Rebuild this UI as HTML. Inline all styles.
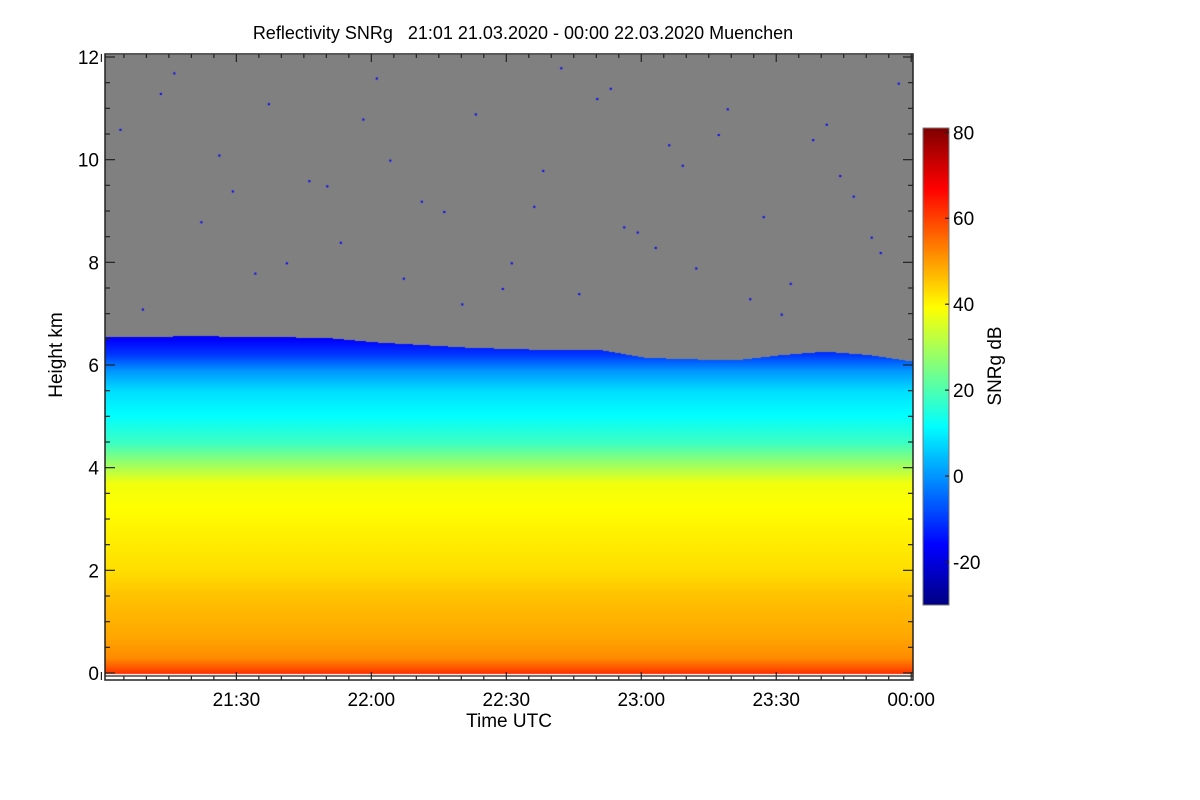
<!DOCTYPE html>
<html><head><meta charset="utf-8"><style>
body{margin:0;background:#fff;width:1200px;height:800px;overflow:hidden;font-family:"Liberation Sans",sans-serif}
</style></head><body>
<svg id="chart" width="1200" height="800" style="position:absolute;left:0;top:0">
<text x="523" y="39" font-size="18" text-anchor="middle" style="white-space:pre">Reflectivity SNRg   21:01 21.03.2020 - 00:00 22.03.2020 Muenchen</text>
<foreignObject x="105" y="55" width="808" height="620"><canvas id="hm" width="808" height="620" xmlns="http://www.w3.org/1999/xhtml"></canvas></foreignObject>
<foreignObject x="923" y="128" width="26" height="477"><canvas id="cb" width="26" height="477" xmlns="http://www.w3.org/1999/xhtml"></canvas></foreignObject>
<g id="axes"></g>
<text x="509" y="727" font-size="19" text-anchor="middle">Time UTC</text>
<text transform="translate(62,355) rotate(-90)" font-size="19" text-anchor="middle">Height km</text>
<text transform="translate(1001,366) rotate(-90)" font-size="19" text-anchor="middle">SNRg dB</text>
</svg>
<script>
// data
const timeMinutes=[0,10,20,30,40,50,60,70,80,90,100,110,120,130,140,150,160,170,179];
const cloudTop=[6.55,6.56,6.57,6.56,6.55,6.53,6.45,6.4,6.35,6.32,6.3,6.3,6.15,6.12,6.1,6.2,6.27,6.2,6.08];
const profileHeights=[0,0.1,0.3,0.7,1.5,2,3,3.7,4.1,4.5,5,5.5,5.9,6.2,6.6];
const profileValues=[62,58,52,49,46,43,40,38,28,18,12,8,0,-10,-18];
const dotTimes=[3,12,21,28,36,45,52,60,66,75,82,90,97,105,112,118,125,131,138,146,152,160,166,172,8,25,40,57,70,88,101,115,128,143,157,170,15,33,49,63,79,95,109,122,136,150,163,176];
const dotHeights=[10.6,11.3,8.8,9.4,11.1,9.6,8.4,11.6,7.7,9.0,10.9,8.0,9.8,7.4,11.4,8.6,10.3,7.9,11.0,8.9,7.6,10.7,9.3,8.2,7.1,10.1,8.0,10.8,9.2,7.5,11.8,8.7,9.9,7.3,10.4,8.5,11.7,7.8,9.5,10.0,7.2,9.1,11.2,8.3,10.5,7.0,9.7,11.5];
const yTicks=[0,2,4,6,8,10,12];
const xTickLabels=["21:30","22:00","22:30","23:00","23:30","00:00"];
const xTickMins=[29,59,89,119,149,179];
const cbTicks=[-20,0,20,40,60,80];
const cbMin=-30, cbMax=81;

const L=105,R=913,T=55,B=675;
const x=m=>L+(m+0.2)*(R-L)/179.6;
const y=h=>673-h*(616/12);
function interp(xs,ys,v){if(v<=xs[0])return ys[0];for(let i=1;i<xs.length;i++)if(v<=xs[i]){const f=(v-xs[i-1])/(xs[i]-xs[i-1]);return ys[i-1]+f*(ys[i]-ys[i-1]);}return ys[ys.length-1];}
function jet(v){let t=(v-cbMin)/(cbMax-cbMin);t=Math.max(0,Math.min(1,t));
 const c=q=>Math.round(255*Math.max(0,Math.min(1,1.5-Math.abs(4*t-q))));
 return [c(3),c(2),c(1)];}
// heatmap
const hm=document.getElementById('hm').getContext('2d');
const img=hm.createImageData(808,620);
for(let px=0;px<808;px++){const m=(px+0.5)*179.6/808-0.2;const top=interp(timeMinutes,cloudTop,m);
 for(let py=0;py<620;py++){const h=(673-(py+T))/(616/12);let col;
  if(h<0){col=[255,255,255];}
  else if(h>top){col=[128,128,128];}
  else{col=jet(interp(profileHeights,profileValues,h));}
  const k=(py*808+px)*4;img.data[k]=col[0];img.data[k+1]=col[1];img.data[k+2]=col[2];img.data[k+3]=255;}}
hm.putImageData(img,0,0);
hm.fillStyle='#0000ff';
dotTimes.forEach((m,i)=>{hm.fillRect(x(m)-L,y(dotHeights[i])-T,2,2);});
// colorbar
const cb=document.getElementById('cb').getContext('2d');
for(let py=0;py<477;py++){const v=cbMax-py*(cbMax-cbMin)/477;const c=jet(v);cb.fillStyle=`rgb(${c})`;cb.fillRect(0,py,26,1);}
// axes
const g=document.getElementById('axes');const NS='http://www.w3.org/2000/svg';
function ln(x1,y1,x2,y2,n){const e=document.createElementNS(NS,'line');e.setAttribute('x1',x1);e.setAttribute('y1',y1);e.setAttribute('x2',x2);e.setAttribute('y2',y2);e.setAttribute('stroke','#222');e.setAttribute('stroke-width','1.2');


g.appendChild(e);}
function tx(xx,yy,s,a,n){const e=document.createElementNS(NS,'text');e.setAttribute('x',xx);e.setAttribute('y',yy);e.setAttribute('font-size','19');e.setAttribute('text-anchor',a);e.textContent=s;


g.appendChild(e);}
const fr=document.createElementNS(NS,'rect');fr.setAttribute('x',L);fr.setAttribute('y',54);fr.setAttribute('width',R-L);fr.setAttribute('height',680-54);fr.setAttribute('fill','none');fr.setAttribute('stroke','#222');fr.setAttribute('stroke-width','1.5');


g.appendChild(fr);
ln(L,676,R,676,'x-axis-inner-line');
for(let h=0;h<=12;h+=0.5){const major=h%2===0;const len=major?10:5;ln(L,y(h),L+len,y(h),'y-tick');ln(R,y(h),R-len,y(h),'y-tick');}
yTicks.forEach(h=>tx(L-6,y(h)+7,String(h),'end','y-tick-label'));
for(let m=-1;m<=179;m+=5){const major=(m+1)%30===0;const len=major?8:4;ln(x(m),680,x(m),680-len,'x-tick');ln(x(m),54,x(m),54+len,'x-tick');}
xTickMins.forEach((m,i)=>tx(x(m),706,xTickLabels[i],'middle','x-tick-label'));
const cbY=v=>128+(cbMax-v)*477/(cbMax-cbMin);
const cr=document.createElementNS(NS,'rect');cr.setAttribute('x',923);cr.setAttribute('y',128);cr.setAttribute('width',26);cr.setAttribute('height',477);cr.setAttribute('fill','none');cr.setAttribute('stroke','#777');


g.appendChild(cr);
cbTicks.forEach(v=>{ln(945,cbY(v),949,cbY(v),'colorbar-tick');tx(953,cbY(v)+7,String(v),'start','colorbar-tick-label');});
</script>
</body></html>
